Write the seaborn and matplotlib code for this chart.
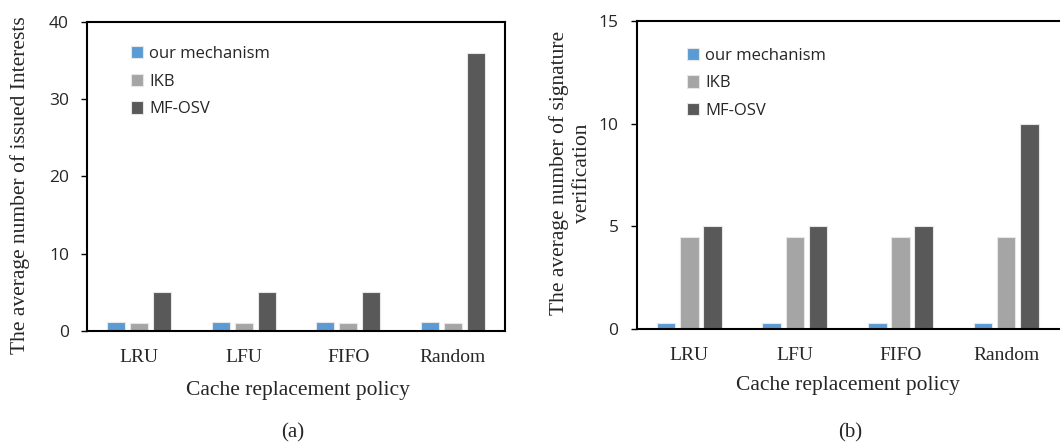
import matplotlib
matplotlib.use("Agg")
import matplotlib.pyplot as plt
import seaborn as sns
import pandas as pd

# Cache replacement policies on the x axis
policies = ["LRU", "LFU", "FIFO", "Random"]
schemes = ["our mechanism", "IKB", "MF-OSV"]

# (a) average number of issued Interests
interests_ours = [1.2, 1.2, 1.2, 1.2]
interests_ikb = [1.0, 1.0, 1.0, 1.0]
interests_mfosv = [5, 5, 5, 36]

# (b) average number of signature verifications
verif_ours = [0.3, 0.3, 0.3, 0.3]
verif_ikb = [4.5, 4.5, 4.5, 4.5]
verif_mfosv = [5, 5, 5, 10]

palette = ["#5B9BD5", "#A5A5A5", "#595959"]

def long_frame(ours, ikb, mfosv):
    rows = []
    for name, vals in zip(schemes, [ours, ikb, mfosv]):
        for p, v in zip(policies, vals):
            rows.append({"policy": p, "scheme": name, "value": v})
    return pd.DataFrame(rows)

sns.set_theme(style="white")
plt.rcParams["font.family"] = ["Liberation Serif", "DejaVu Serif"]

fig = plt.figure(figsize=(10.61, 4.44), dpi=100)
ax_a = fig.add_axes([0.082, 0.2545, 0.394, 0.696])
ax_b = fig.add_axes([0.600, 0.259, 0.398, 0.694])

sans = "Open Sans"

def draw(ax, df, ymax, ystep, ylabel, ylab_pos, xlab_pos, legend_anchor):
    sns.barplot(data=df, x="policy", y="value", hue="scheme", order=policies,
                hue_order=schemes, palette=palette, width=0.66, gap=0.2,
                edgecolor="#E6E6E6", linewidth=0.8, saturation=1, ax=ax)
    ax.set_xlim(-0.5, 3.5)
    ax.set_ylim(0, ymax)
    ax.set_yticks(range(0, ymax + 1, ystep))
    for lab in ax.get_yticklabels():
        lab.set_fontfamily(sans)
        lab.set_fontsize(12.5)
    ax.tick_params(axis="y", which="major", direction="out", length=4,
                   width=1, color="black", left=True, pad=9)
    ax.tick_params(axis="x", length=0, pad=13, labelsize=14)
    for s in ax.spines.values():
        s.set_color("black")
        s.set_linewidth(1.5)
    ax.set_xlabel("Cache replacement policy", fontsize=15.5)
    ax.xaxis.set_label_coords(*xlab_pos)
    ax.xaxis.label.set_va("center")
    ax.set_ylabel(ylabel, fontsize=15.5, linespacing=1.25)
    ax.yaxis.set_label_coords(*ylab_pos)
    ax.yaxis.label.set_va("center")
    ax.legend(loc="upper left", bbox_to_anchor=legend_anchor, frameon=False,
              prop={"family": sans, "size": 12}, handlelength=0.75,
              handleheight=0.75, handletextpad=0.35, labelspacing=0.7,
              borderpad=0, borderaxespad=0)

draw(ax_a, long_frame(interests_ours, interests_ikb, interests_mfosv), 40, 10,
     "The average number of issued Interests",
     (-0.160, 0.472), (0.505, -0.191), (0.105, 0.922))
draw(ax_b, long_frame(verif_ours, verif_ikb, verif_mfosv), 15, 5,
     "The average number of signature\nverification",
     (-0.156, 0.506), (0.501, -0.182), (0.119, 0.913))
ax_b.spines["right"].set_visible(False)

fig.text(293 / 1061, 1 - 433 / 444, "(a)", ha="center", va="center", fontsize=15)
fig.text(850 / 1061, 1 - 433 / 444, "(b)", ha="center", va="center", fontsize=15)

fig.savefig("out.png", dpi=100, facecolor="white")
